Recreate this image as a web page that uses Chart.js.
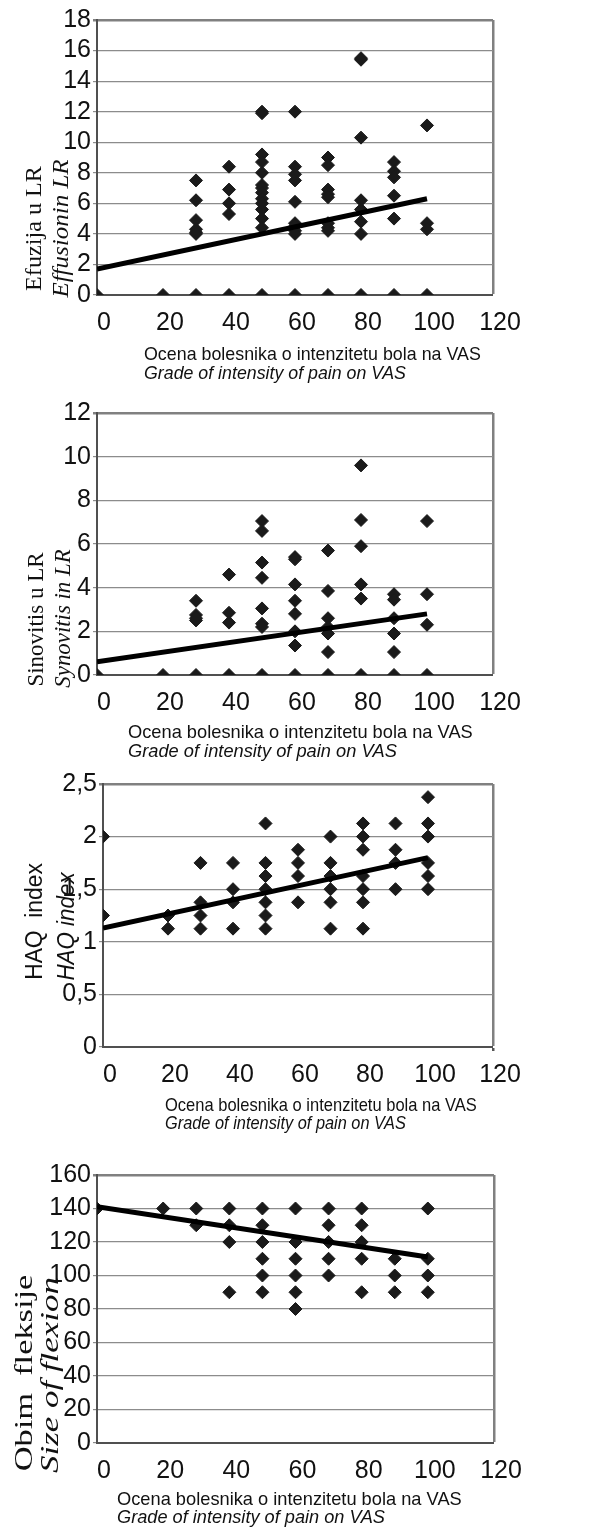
<!DOCTYPE html>
<html>
<head>
<meta charset="utf-8">
<script src="https://cdn.jsdelivr.net/npm/chart.js@4.4.1/dist/chart.umd.min.js"></script>
<style>
  body { margin: 0; background: #fff; }
  #page { position: relative; width: 591px; height: 1527px; overflow: hidden; }
  canvas { position: absolute; left: 0; }
  .lbl { position: absolute; white-space: nowrap; line-height: 1; color: #111; }
  .sans { font-family: "Liberation Sans", Arial, sans-serif; }
  .serif { font-family: "Liberation Serif", "Times New Roman", serif; }
  .it { font-style: italic; }
</style>
</head>
<body>
<div id="page">
  <canvas id="c1" width="591" height="345" style="top:0px"></canvas>
  <canvas id="c2" width="591" height="335" style="top:390px"></canvas>
  <canvas id="c3" width="591" height="337" style="top:760px"></canvas>
  <canvas id="c4" width="591" height="343" style="top:1150px"></canvas>
</div>
<script>
// VAS levels (x) shared by all four plots
const vasLevels = [0, 20, 30, 40, 50, 60, 70, 80, 90, 100];
const xTicks = [0, 20, 40, 60, 80, 100, 120];
const trendX = [0, 100];

// Efuzija u LR - values per VAS level
const efuzija = [
  [0], [0],
  [7.5, 6.2, 4.9, 4.3, 4.1, 4.0, 0],
  [8.4, 6.9, 6.0, 5.3, 0],
  [12, 11.9, 9.2, 8.7, 8.0, 7.2, 7.0, 6.7, 6.3, 6.0, 5.6, 5.0, 4.4, 0],
  [12, 8.4, 7.9, 7.5, 6.1, 4.7, 4.5, 4.2, 4.0, 0],
  [9.0, 8.5, 6.9, 6.6, 6.4, 4.7, 4.4, 4.2, 0],
  [15.5, 15.4, 10.3, 6.2, 5.6, 4.8, 4.0, 0],
  [8.7, 8.1, 7.7, 6.5, 5.0, 0],
  [11.1, 4.7, 4.3, 0]
];
const efuzijaTrend = [1.7, 6.3];

// Sinovitis u LR
const sinovitis = [
  [0], [0],
  [3.4, 2.75, 2.6, 2.5, 0],
  [4.6, 2.85, 2.4, 0],
  [7.05, 6.6, 5.15, 4.45, 3.05, 2.35, 2.2, 0],
  [5.4, 5.3, 4.15, 3.4, 2.8, 2.0, 1.35, 0],
  [5.7, 3.85, 2.6, 2.2, 1.9, 1.05, 0],
  [9.6, 7.1, 5.9, 4.15, 3.5, 0],
  [3.7, 3.45, 2.6, 1.9, 1.05, 0],
  [7.05, 3.7, 2.3, 0]
];
const sinovitisTrend = [0.6, 2.8];

// HAQ index
const haq = [
  [2.0, 1.25],
  [1.25, 1.125],
  [1.75, 1.375, 1.25, 1.125],
  [1.75, 1.5, 1.375, 1.125],
  [2.125, 1.75, 1.625, 1.5, 1.375, 1.25, 1.125],
  [1.875, 1.75, 1.625, 1.375],
  [2.0, 1.75, 1.625, 1.5, 1.375, 1.125],
  [2.125, 2.0, 1.875, 1.625, 1.5, 1.375, 1.125],
  [2.125, 1.875, 1.75, 1.5],
  [2.375, 2.125, 2.0, 1.75, 1.625, 1.5]
];
const haqTrend = [1.13, 1.8];

// Obim fleksije
const fleksija = [
  [140], [140],
  [140, 130],
  [140, 130, 120, 90],
  [140, 130, 120, 110, 100, 90],
  [140, 120, 110, 100, 90, 80],
  [140, 130, 120, 110, 100],
  [140, 130, 120, 110, 90],
  [110, 100, 90],
  [140, 110, 100, 90]
];
const fleksijaTrend = [141, 111];

const tickFont = { family: '"Liberation Sans", Arial, sans-serif', size: 25 };

function toPoints(groups) {
  const pts = [];
  groups.forEach((vals, i) => {
    vals.forEach(v => pts.push({ x: vasLevels[i], y: v }));
  });
  return pts;
}

function crtaj(id, groups, trend, yMax, yStep, area, xTickMarks, comma) {
  const canvas = document.getElementById(id);
  const top = parseInt(canvas.style.top);
  const h = canvas.height;
  new Chart(canvas.getContext('2d'), {
    type: 'scatter',
    data: {
      datasets: [
        {
          type: 'line',
          data: trendX.map((x, i) => ({ x: x, y: trend[i] })),
          borderColor: '#000',
          borderWidth: 5,
          pointRadius: 0,
          fill: false
        },
        {
          data: toPoints(groups),
          pointStyle: 'rectRot',
          pointRadius: 6.5,
          backgroundColor: '#1a1a1a',
          borderColor: '#1a1a1a',
          borderWidth: 1
        }
      ]
    },
    options: {
      responsive: false,
      animation: false,
      events: [],
      layout: { padding: { top: area.top - top, right: 591 - area.right, left: 0, bottom: 0 } },
      plugins: { legend: { display: false }, tooltip: { enabled: false } },
      scales: {
        x: {
          type: 'linear',
          min: 0,
          max: 120,
          afterBuildTicks: s => { s.ticks = xTicks.map(v => ({ value: v })); },
          afterFit: s => { s.height = h - (area.bottom - top); },
          ticks: { font: tickFont, color: '#111', autoSkip: false, padding: xTickMarks ? 9 : 13, labelOffset: 7, maxRotation: 0 },
          grid: {
            drawTicks: xTickMarks,
            tickLength: 4,
            tickColor: '#555',
            color: c => (c.tick && c.tick.value === 120) ? '#808080' : 'rgba(0,0,0,0)',
            lineWidth: c => (c.tick && c.tick.value === 120) ? 2.5 : 0
          },
          border: { color: '#505050', width: 2 }
        },
        y: {
          min: 0,
          max: yMax,
          afterFit: s => { s.width = area.left; },
          ticks: {
            stepSize: yStep,
            autoSkip: false,
            font: tickFont,
            color: '#111',
            padding: 2,
            callback: v => comma ? String(v).replace('.', ',') : v
          },
          grid: {
            tickLength: 4,
            color: c => (c.tick && c.tick.value === yMax) ? '#808080' : '#8c8c8c',
            lineWidth: c => (c.tick && c.tick.value === yMax) ? 2.5 : 1.2
          },
          border: { color: '#505050', width: 2 }
        }
      }
    }
  });
}

crtaj('c1', efuzija, efuzijaTrend, 18, 2, { left: 97, right: 493, top: 20, bottom: 295 }, false, false);
crtaj('c2', sinovitis, sinovitisTrend, 12, 2, { left: 97, right: 493, top: 413, bottom: 675 }, false, false);
crtaj('c3', haq, haqTrend, 2.5, 0.5, { left: 103, right: 493, top: 784, bottom: 1047 }, true, true);
crtaj('c4', fleksija, fleksijaTrend, 160, 20, { left: 97, right: 494, top: 1175, bottom: 1443 }, false, false);

// axis titles as text, stretched to the measured length
const page = document.getElementById('page');
function natpis(text, cls, fs, x, y, len, rotated) {
  const el = document.createElement('div');
  el.className = 'lbl ' + cls;
  el.style.fontSize = fs + 'px';
  el.textContent = text;
  page.appendChild(el);
  const w = el.offsetWidth;
  const k = len / w;
  if (rotated) {
    el.style.left = (x - w / 2) + 'px';
    el.style.top = (y - fs / 2) + 'px';
    el.style.transformOrigin = 'center center';
    el.style.transform = 'rotate(-90deg) scaleX(' + k + ')';
  } else {
    el.style.left = x + 'px';
    el.style.top = (y - 0.85 * fs) + 'px';
    el.style.transformOrigin = 'left top';
    el.style.transform = 'scaleX(' + k + ')';
  }
}

const xNaslov1 = 'Ocena bolesnika o intenzitetu bola na VAS';
const xNaslov2 = 'Grade of intensity of pain on VAS';

natpis('Efuzija u LR', 'serif', 23, 33, 228, 125, true);
natpis('Effusionin LR', 'serif it', 23, 60, 228, 138, true);
natpis(xNaslov1, 'sans', 19, 144, 360, 337, false);
natpis(xNaslov2, 'sans it', 19, 144, 379, 262, false);

natpis('Sinovitis u LR', 'serif', 23, 35, 619, 134, true);
natpis('Synovitis in LR', 'serif it', 23, 62, 618, 138, true);
natpis(xNaslov1, 'sans', 19, 128, 738, 345, false);
natpis(xNaslov2, 'sans it', 19, 128, 757, 269, false);

natpis('HAQ\u00a0\u00a0index', 'sans', 23, 35, 921, 117, true);
natpis('HAQ index', 'sans it', 23, 66, 926, 108, true);
natpis(xNaslov1, 'sans', 19, 165, 1111, 312, false);
natpis(xNaslov2, 'sans it', 19, 165, 1129, 241, false);

natpis('Obim\u00a0\u00a0fleksije', 'serif', 26, 24, 1373, 197, true);
natpis('Size of flexion', 'serif it', 26, 50, 1375, 196, true);
natpis(xNaslov1, 'sans', 19, 117, 1505, 345, false);
natpis(xNaslov2, 'sans it', 19, 117, 1523, 268, false);
</script>
</body>
</html>
